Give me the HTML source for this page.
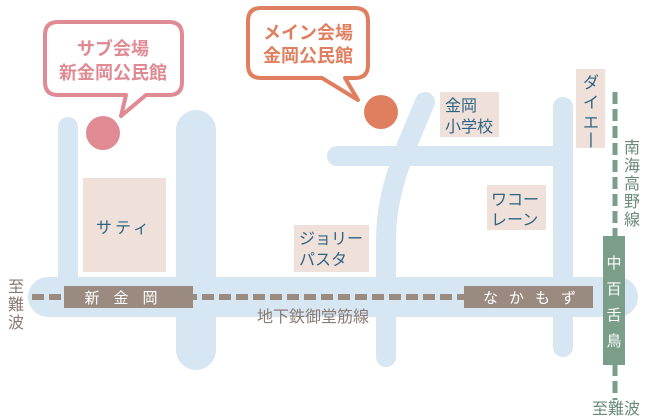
<!DOCTYPE html>
<html><head><meta charset="utf-8"><style>
html,body{margin:0;padding:0;background:#fff;}
svg{display:block;}
text{font-family:"Liberation Sans","Noto Sans CJK JP",sans-serif;}
</style></head><body>
<svg width="650" height="420" viewBox="0 0 650 420" xmlns="http://www.w3.org/2000/svg">
<g fill="#d6e6f2" stroke="none">
  <rect x="58" y="117" width="20" height="180" rx="10"/>
  <rect x="176" y="110" width="40" height="260" rx="20"/>
  <rect x="28" y="277" width="610" height="40" rx="20"/>
  <rect x="327" y="146" width="246" height="20" rx="10"/>
  <rect x="553" y="97" width="20" height="260" rx="10"/>
</g>
<path d="M425 102 C 405 150, 386 190, 386 240 L 386 357" fill="none" stroke="#d6e6f2" stroke-width="20" stroke-linecap="round"/>
<g fill="#f0e0da">
  <rect x="83" y="178" width="83" height="94"/>
  <rect x="440" y="92" width="59" height="45"/>
  <rect x="576" y="69" width="29" height="79"/>
  <rect x="487" y="185" width="59" height="45"/>
  <rect x="294" y="225" width="75" height="47"/>
</g>
<g fill="#2c6484" font-size="16">
  <text x="124" y="233" text-anchor="middle" letter-spacing="3">サティ</text>
  <text x="445" y="111">金岡</text>
  <text x="445" y="132">小学校</text>
  <text x="491" y="205">ワコー</text>
  <text x="491" y="225">レーン</text>
  <text x="299" y="244">ジョリー</text>
  <text x="299" y="265">パスタ</text>
  <text x="591" y="88" text-anchor="middle">ダ</text>
  <text x="591" y="108" text-anchor="middle">イ</text>
  <text x="591" y="128" text-anchor="middle">エ</text>
  <text x="591" y="144" text-anchor="middle">|</text>
</g>
<line x1="32" y1="297" x2="464" y2="297" stroke="#9b8a80" stroke-width="6" stroke-dasharray="12 5"/>
<rect x="64" y="286" width="129" height="22" fill="#9b8a80"/>
<rect x="464" y="286" width="129" height="22" fill="#9b8a80"/>
<text x="128" y="303" text-anchor="middle" fill="#fff" font-size="15" letter-spacing="14">新金岡</text>
<text x="535" y="303" text-anchor="middle" fill="#fff" font-size="15" letter-spacing="11">なかもず</text>
<g fill="#8a7a72" font-size="16">
  <text x="16" y="292" text-anchor="middle">至</text>
  <text x="16" y="310" text-anchor="middle">難</text>
  <text x="16" y="328" text-anchor="middle">波</text>
  <text x="257" y="322">地下鉄御堂筋線</text>
</g>
<line x1="615" y1="92" x2="615" y2="400" stroke="#7a9e8a" stroke-width="5" stroke-dasharray="12 5"/>
<rect x="603" y="236" width="22" height="129" fill="#7a9e8a"/>
<g fill="#fff" font-size="15" text-anchor="middle">
  <text x="614" y="268">中</text>
  <text x="614" y="294">百</text>
  <text x="614" y="320">舌</text>
  <text x="614" y="346">鳥</text>
</g>
<g fill="#6a8a7a" font-size="16" text-anchor="middle">
  <text x="632" y="153">南</text>
  <text x="632" y="171">海</text>
  <text x="632" y="189">高</text>
  <text x="632" y="207">野</text>
  <text x="632" y="225">線</text>
  <text x="616" y="414">至難波</text>
</g>
<path d="M58 22 H169 Q182 22 182 35 V82 Q182 95 169 95 H146 L121 116 L126 95 H58 Q45 95 45 82 V35 Q45 22 58 22 Z" fill="#fff" stroke="#e08a94" stroke-width="4" stroke-linejoin="round"/>
<text x="113" y="55" text-anchor="middle" fill="#e08a94" font-size="18" font-weight="bold">サブ会場</text>
<text x="113" y="79" text-anchor="middle" fill="#e08a94" font-size="18" font-weight="bold">新金岡公民館</text>
<circle cx="103" cy="133" r="17" fill="#e08a94"/>
<path d="M261 8 H355 Q368 8 368 21 V65 Q368 78 355 78 H345 L358 100 L322 78 H261 Q248 78 248 65 V21 Q248 8 261 8 Z" fill="#fff" stroke="#e07f5f" stroke-width="4" stroke-linejoin="round"/>
<text x="308" y="39" text-anchor="middle" fill="#e07f5f" font-size="18" font-weight="bold">メイン会場</text>
<text x="308" y="62" text-anchor="middle" fill="#e07f5f" font-size="18" font-weight="bold">金岡公民館</text>
<circle cx="381" cy="112" r="17" fill="#e07f5f"/>
</svg>
</body></html>
